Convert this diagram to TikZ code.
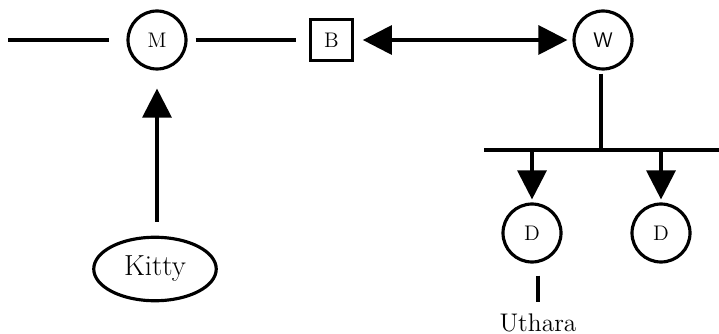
\documentclass[tikz,border=0pt]{standalone}
\usepackage{tikz}
\usetikzlibrary{arrows.meta, shapes.geometric}

\begin{document}
\begin{tikzpicture}[x=0.02cm, y=-0.02cm, line width=1.8pt,
    person/.style={draw, circle, minimum size=1.16cm, inner sep=0pt, font=\large},
    bigtip/.style={-{Triangle[length=0.58cm, width=0.58cm]}}]
    \def \rowY {40}
    \def \barY {150}
    \useasboundingbox (0,0) rectangle (719,334);
    % Top row
    \coordinate (lineStart) at (8,\rowY);
    \node[person] (M) at (157,\rowY) {M};
    \node[draw, rectangle, minimum size=0.83cm, inner sep=0pt, font=\large] (B) at (331.5,\rowY) {B};
    \node[person, font=\large\sffamily] (W) at (603,\rowY) {W};
    \draw[shorten >=17*0.02cm] (lineStart) -- (M);
    \draw[shorten <=8*0.02cm, shorten >=13*0.02cm] (M) -- (B);
    \draw[{Triangle[length=0.58cm, width=0.58cm]}-{Triangle[length=0.58cm, width=0.58cm]}, shorten <=9*0.02cm, shorten >=5*0.02cm] (B) -- (W);
    % Kitty
    \node[draw, ellipse, minimum width=2.45cm, minimum height=1.27cm, inner sep=0pt, font=\fontsize{16.5}{20}\selectfont] (Kitty) at (155,269) {Kitty};
    \draw[bigtip, shorten <=14*0.02cm, shorten >=18*0.02cm] (Kitty.north -| M) -- (M.south);
    % Children bar
    \coordinate (barLeft) at (484,\barY);
    \coordinate (barRight) at (719,\barY);
    \coordinate (barMid) at (601,\barY);
    \draw (barLeft) -- (barRight);
    \draw[shorten <=3*0.02cm] (W.south -| barMid) -- (barMid);
    % Daughters
    \node[person] (D1) at (532,233) {D};
    \node[person] (D2) at (661,233) {D};
    \draw[bigtip, shorten >=3*0.02cm] (D1 |- barLeft) -- (D1.north);
    \draw[bigtip, shorten >=3*0.02cm] (D2 |- barLeft) -- (D2.north);
    % Uthara
    \node[anchor=base, font=\fontsize{14.5}{17}\selectfont, inner sep=1pt] (Uthara) at (538,331) {Uthara};
    \draw[shorten <=12*0.02cm, shorten >=8*0.02cm] (Uthara.north |- D1.south) -- (Uthara.north);
\end{tikzpicture}
\end{document}
